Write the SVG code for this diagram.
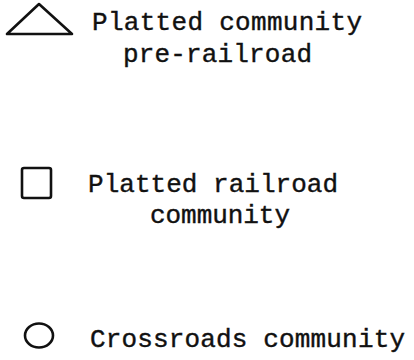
<svg xmlns="http://www.w3.org/2000/svg" width="414" height="360" viewBox="0 0 414 360">
<style>
.sym{fill:none;stroke:#111;stroke-width:2.6;stroke-linejoin:round}
.t{font-family:"Liberation Mono","Courier New",monospace;font-size:26px;fill:#111;stroke:#111;stroke-width:0.4}
</style>
<rect width="414" height="360" fill="#fff"/>
<g id="triangle-entry">
<polygon class="sym" points="7,34 72,34 39,4"/>
<text class="t" x="92" y="30" textLength="270">Platted community</text>
<text class="t" x="123" y="62" textLength="189">pre-railroad</text>
</g>
<g id="square-entry">
<rect class="sym" x="22" y="168" width="29" height="30" rx="2"/>
<text class="t" x="88" y="192" textLength="250">Platted railroad</text>
<text class="t" x="150" y="223" textLength="140">community</text>
</g>
<g id="circle-entry">
<ellipse class="sym" cx="39" cy="335.5" rx="14" ry="12" stroke-width="3.5"/>
<text class="t" x="90" y="347" textLength="315">Crossroads community</text>
</g>
<g id="connectors"/>
</svg>
